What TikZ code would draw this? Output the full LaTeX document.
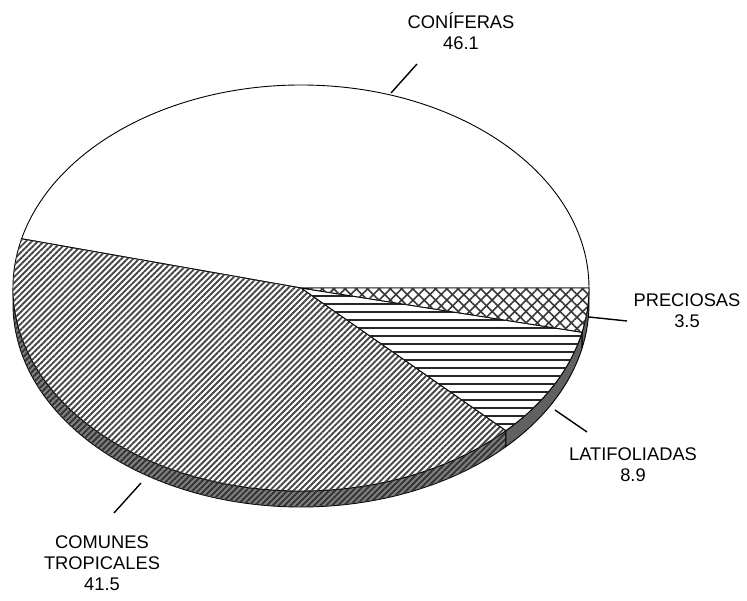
\documentclass[tikz,border=0pt]{standalone}
\usepackage{fontspec}
\setmainfont{Liberation Sans}
\usetikzlibrary{patterns.meta}
\def\prx{288}
\def\pry{203}
\def\pdepth{16}
\newcommand\sidewall[3]{%
  \path[#3] (#1:\prx pt and \pry pt)
    arc[start angle=#1,end angle=#2,x radius=\prx pt,y radius=\pry pt]
    -- ++(0,-\pdepth)
    arc[start angle=#2,end angle=#1,x radius=\prx pt,y radius=\pry pt] -- cycle;}
\newcommand\topslice[3]{%
  \path[#3] (0,0) -- (#1:\prx pt and \pry pt)
    arc[start angle=#1,end angle=#2,x radius=\prx pt,y radius=\pry pt] -- cycle;}
\begin{document}
\begin{tikzpicture}[x=1pt,y=1pt,
  edge/.style={draw=black,line width=0.9pt,line join=round},
  lbl/.style={align=center,font=\fontsize{18.3}{21}\selectfont,inner sep=0pt},
  leader/.style={draw=black,line width=1.4pt},
  conif/.style={edge,fill=white},
  comun/.style={edge,fill=white,postaction={pattern={Lines[angle=45,distance=4.2pt,line width=1.9pt]},pattern color=black!72}},
  latif/.style={edge,fill=white,postaction={pattern={Lines[angle=0,distance=8pt,line width=2.8pt]},pattern color=black!85}},
  precio/.style={edge,fill=white,
    postaction={pattern={Lines[angle=45,distance=8pt,line width=1.6pt]},pattern color=black!78},
    postaction={pattern={Lines[angle=-45,distance=8pt,line width=1.6pt]},pattern color=black!78}},
  comunside/.style={edge,fill=black!50,postaction={pattern={Lines[angle=45,distance=4.2pt,line width=1.9pt]},pattern color=black!80}},
  latifside/.style={edge,fill=black!62},
  precioside/.style={edge,fill=black!62}]
\useasboundingbox (0,0) rectangle (747,600);
\begin{scope}[shift={(301,312)}]
  \sidewall{180}{315.36}{comunside}
  \sidewall{315.36}{347.4}{latifside}
  \sidewall{347.4}{360}{precioside}
  \topslice{0}{165.96}{conif}
  \topslice{165.96}{315.36}{comun}
  \topslice{315.36}{347.4}{latif}
  \topslice{347.4}{360}{precio}
\end{scope}
\node[lbl] (lc) at (461,569) {CONÍFERAS\\46.1};
\node[lbl] (lp) at (687,289) {PRECIOSAS\\3.5};
\node[lbl] (ll) at (633,135) {LATIFOLIADAS\\8.9};
\node[lbl] (lt) at (102,37) {COMUNES\\TROPICALES\\41.5};
\coordinate (c1) at (391,507);
\coordinate (c2) at (417,536);
\coordinate (p1) at (589,283);
\coordinate (p2) at (627,279);
\coordinate (l1) at (555,190);
\coordinate (l2) at (587,168);
\coordinate (t1) at (141,117);
\coordinate (t2) at (114,87);
\draw[leader] (c1) -- (c2);
\draw[leader] (p1) -- (p2);
\draw[leader] (l1) -- (l2);
\draw[leader] (t1) -- (t2);
\end{tikzpicture}
\end{document}
